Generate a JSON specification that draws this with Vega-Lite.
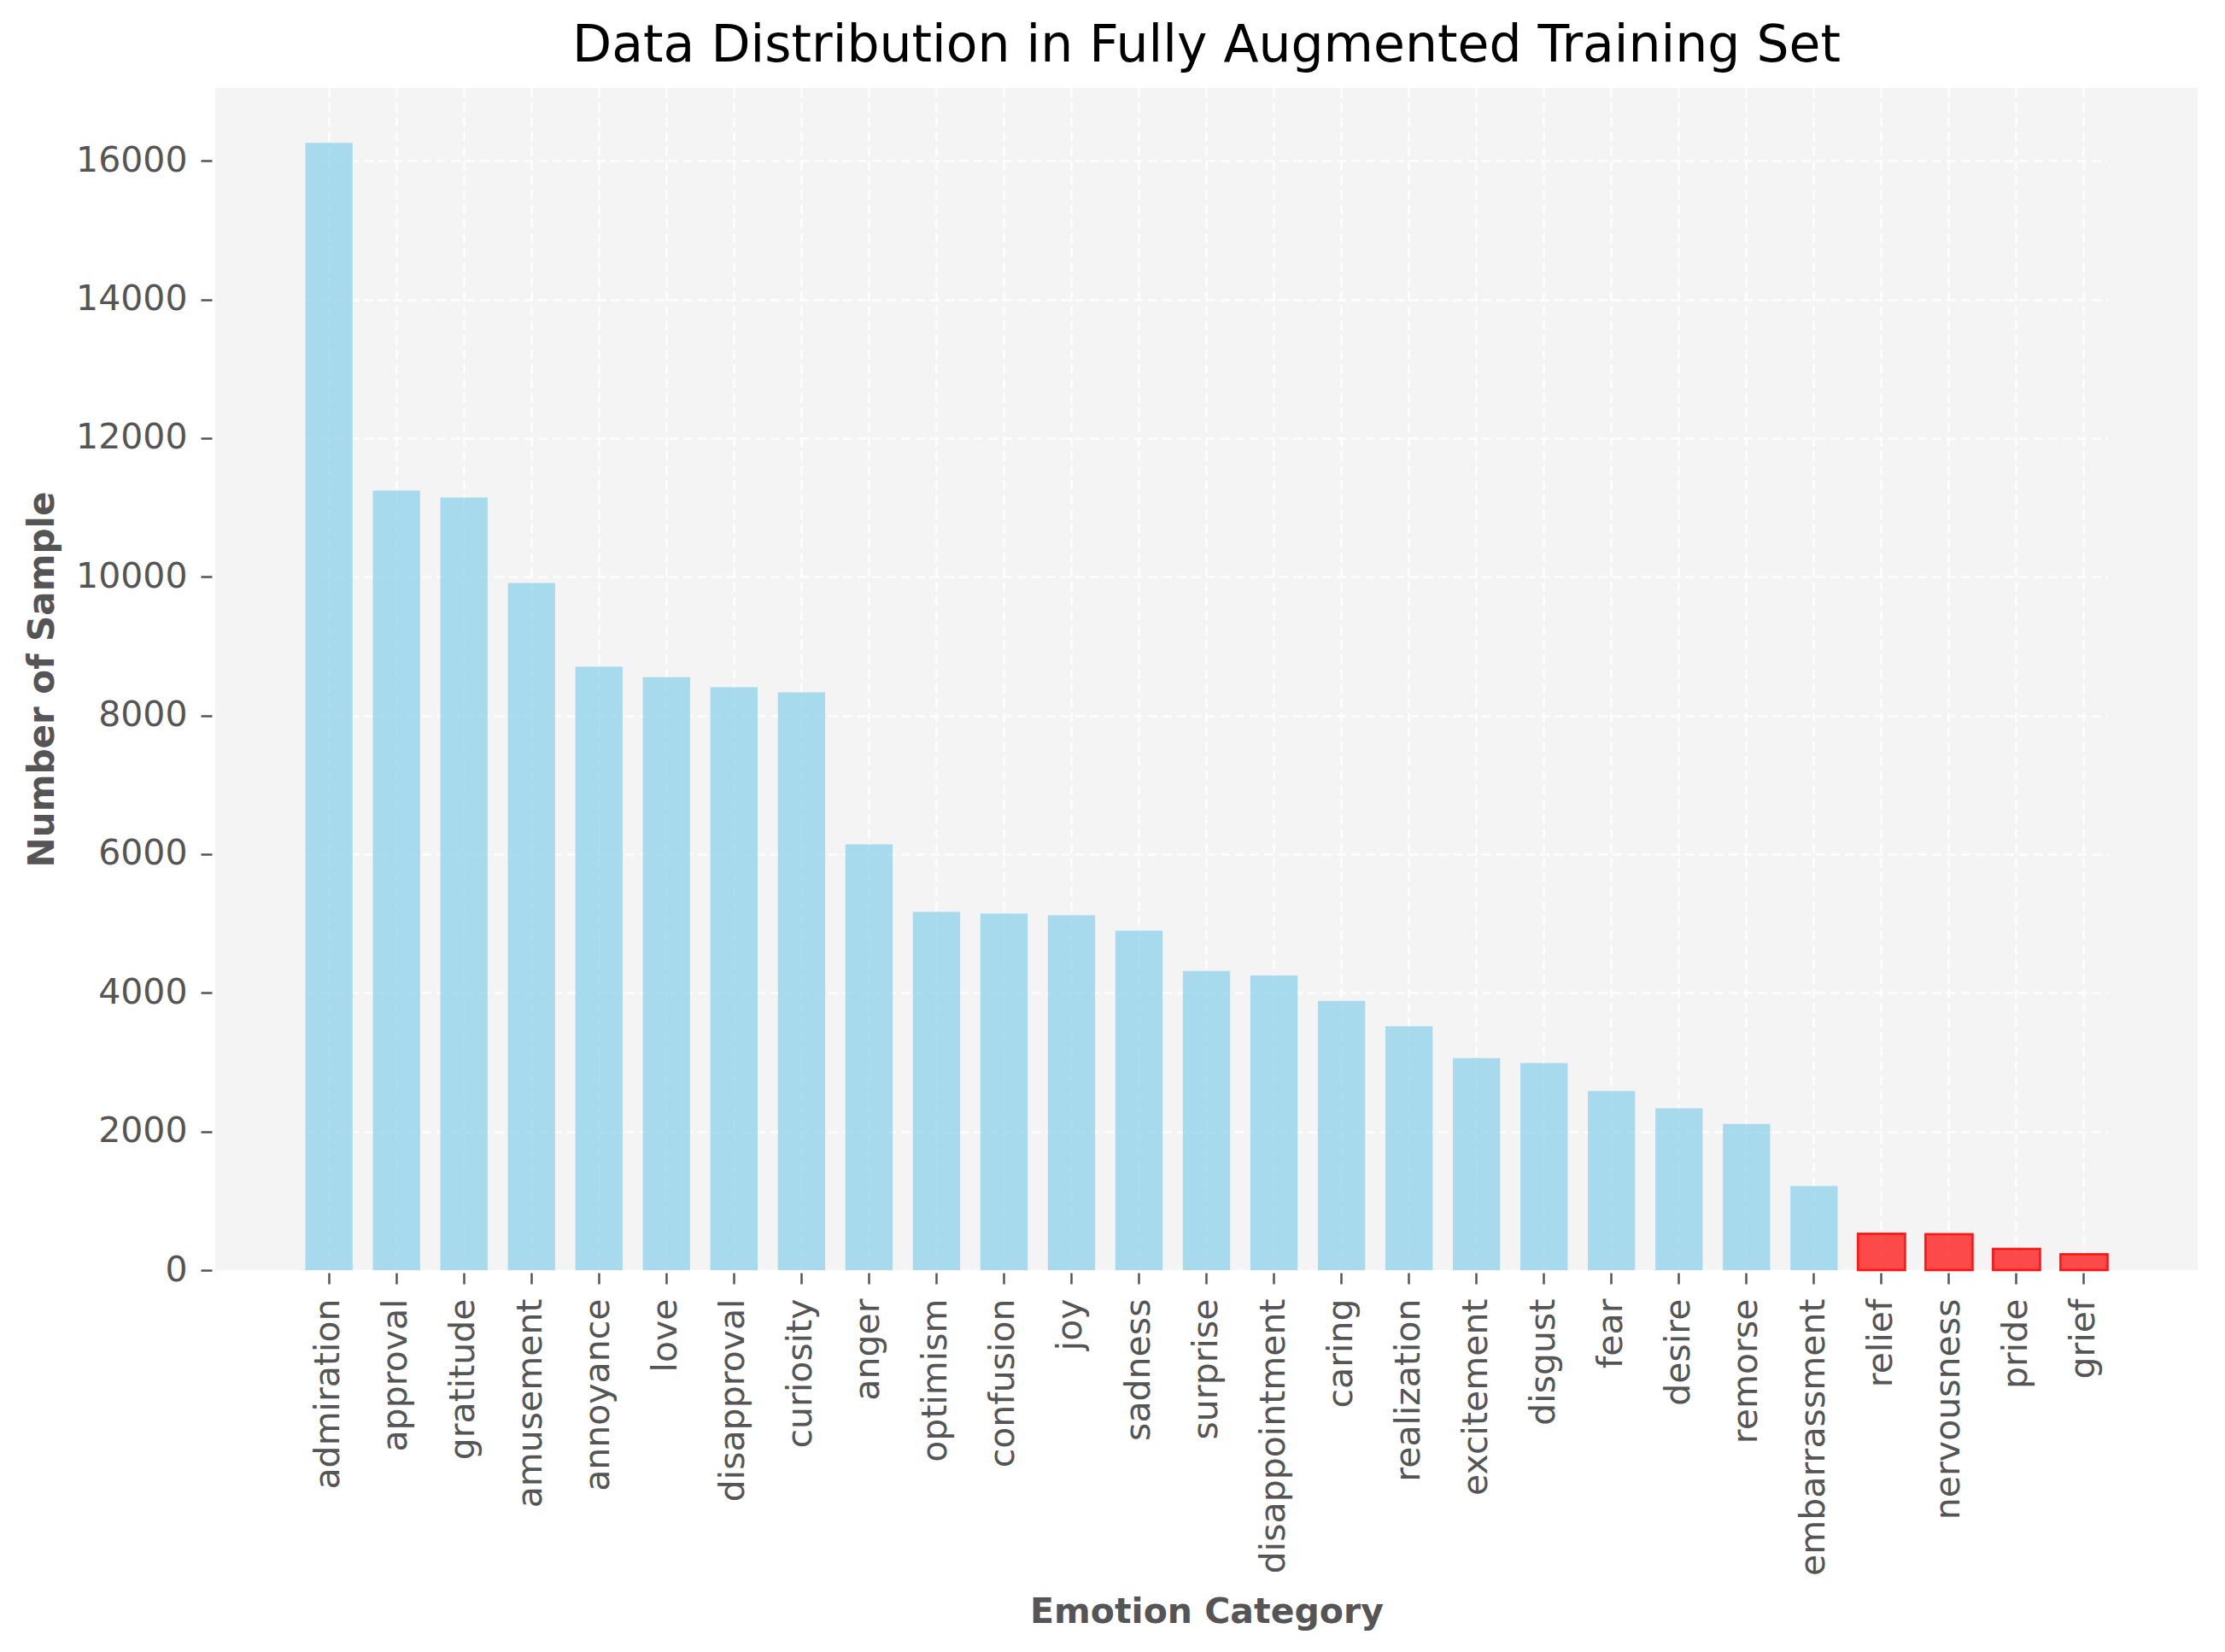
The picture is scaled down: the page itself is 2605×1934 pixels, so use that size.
{
  "$schema": "https://vega.github.io/schema/vega-lite/v6.json",
  "autosize": {"type": "none"},
  "width": 2321,
  "height": 1384,
  "padding": {"left": 252, "top": 103, "right": 32, "bottom": 447},
  "background": "white",
  "config": {
    "font": "DejaVu Sans",
    "view": {"fill": "#f4f4f4", "stroke": null}
  },
  "title": {
    "text": "Data Distribution in Fully Augmented Training Set",
    "font": "DejaVu Sans",
    "fontSize": 60,
    "fontWeight": "normal",
    "color": "black",
    "anchor": "middle",
    "frame": "group",
    "offset": 18
  },
  "data": {
    "values": [
      {"emotion": "admiration", "count": 16257, "group": "normal"},
      {"emotion": "approval", "count": 11243, "group": "normal"},
      {"emotion": "gratitude", "count": 11143, "group": "normal"},
      {"emotion": "amusement", "count": 9912, "group": "normal"},
      {"emotion": "annoyance", "count": 8703, "group": "normal"},
      {"emotion": "love", "count": 8554, "group": "normal"},
      {"emotion": "disapproval", "count": 8407, "group": "normal"},
      {"emotion": "curiosity", "count": 8335, "group": "normal"},
      {"emotion": "anger", "count": 6142, "group": "normal"},
      {"emotion": "optimism", "count": 5169, "group": "normal"},
      {"emotion": "confusion", "count": 5144, "group": "normal"},
      {"emotion": "joy", "count": 5119, "group": "normal"},
      {"emotion": "sadness", "count": 4896, "group": "normal"},
      {"emotion": "surprise", "count": 4314, "group": "normal"},
      {"emotion": "disappointment", "count": 4251, "group": "normal"},
      {"emotion": "caring", "count": 3883, "group": "normal"},
      {"emotion": "realization", "count": 3516, "group": "normal"},
      {"emotion": "excitement", "count": 3057, "group": "normal"},
      {"emotion": "disgust", "count": 2986, "group": "normal"},
      {"emotion": "fear", "count": 2583, "group": "normal"},
      {"emotion": "desire", "count": 2336, "group": "normal"},
      {"emotion": "remorse", "count": 2110, "group": "normal"},
      {"emotion": "embarrassment", "count": 1212, "group": "normal"},
      {"emotion": "relief", "count": 527, "group": "low"},
      {"emotion": "nervousness", "count": 519, "group": "low"},
      {"emotion": "pride", "count": 307, "group": "low"},
      {"emotion": "grief", "count": 230, "group": "low"}
    ]
  },
  "mark": {"type": "bar", "fillOpacity": 0.7, "strokeWidth": 2.5, "strokeOpacity": 0.85},
  "encoding": {
    "x": {
      "field": "emotion",
      "type": "nominal",
      "sort": null,
      "scale": {"paddingInner": 0.3, "paddingOuter": 0, "range": [105.5, 2215.6]},
      "axis": {
        "title": "Emotion Category",
        "titleFontSize": 41,
        "titleFontWeight": "bold",
        "titleColor": "#555555",
        "titleX": 1160.5,
        "titleY": 409,
        "titleAnchor": "middle",
        "titleAlign": "center",
        "titleBaseline": "alphabetic",
        "labelAngle": -90,
        "labelFontSize": 41,
        "labelColor": "#555555",
        "labelPadding": 17,
        "labelLimit": 0,
        "offset": 3,
        "domain": false,
        "ticks": true,
        "tickSize": 13,
        "tickWidth": 2.5,
        "tickColor": "#555555",
        "grid": true,
        "bandPosition": 0.5,
        "gridColor": "white",
        "gridOpacity": 0.8,
        "gridWidth": 2.7,
        "gridDash": [11, 6]
      }
    },
    "y": {
      "field": "count",
      "type": "quantitative",
      "scale": {"domain": [0, 17050], "nice": false, "zero": true},
      "axis": {
        "title": "Number of Sample",
        "titleFontSize": 42,
        "titleFontWeight": "bold",
        "titleColor": "#555555",
        "titleX": -186,
        "titleY": 692,
        "titleBaseline": "alphabetic",
        "values": [0, 2000, 4000, 6000, 8000, 10000, 12000, 14000, 16000],
        "format": "d",
        "labelFontSize": 41,
        "labelColor": "#555555",
        "labelPadding": 16,
        "offset": 4,
        "domain": false,
        "tickSize": 13,
        "tickWidth": 2.5,
        "tickColor": "#555555",
        "grid": true,
        "gridColor": "white",
        "gridOpacity": 0.8,
        "gridWidth": 2.7,
        "gridDash": [11, 6]
      }
    },
    "fill": {
      "field": "group",
      "type": "nominal",
      "scale": {"domain": ["normal", "low"], "range": ["skyblue", "red"]},
      "legend": null
    },
    "stroke": {
      "field": "group",
      "type": "nominal",
      "scale": {"domain": ["normal", "low"], "range": ["rgba(0,0,0,0)", "red"]},
      "legend": null
    }
  }
}
